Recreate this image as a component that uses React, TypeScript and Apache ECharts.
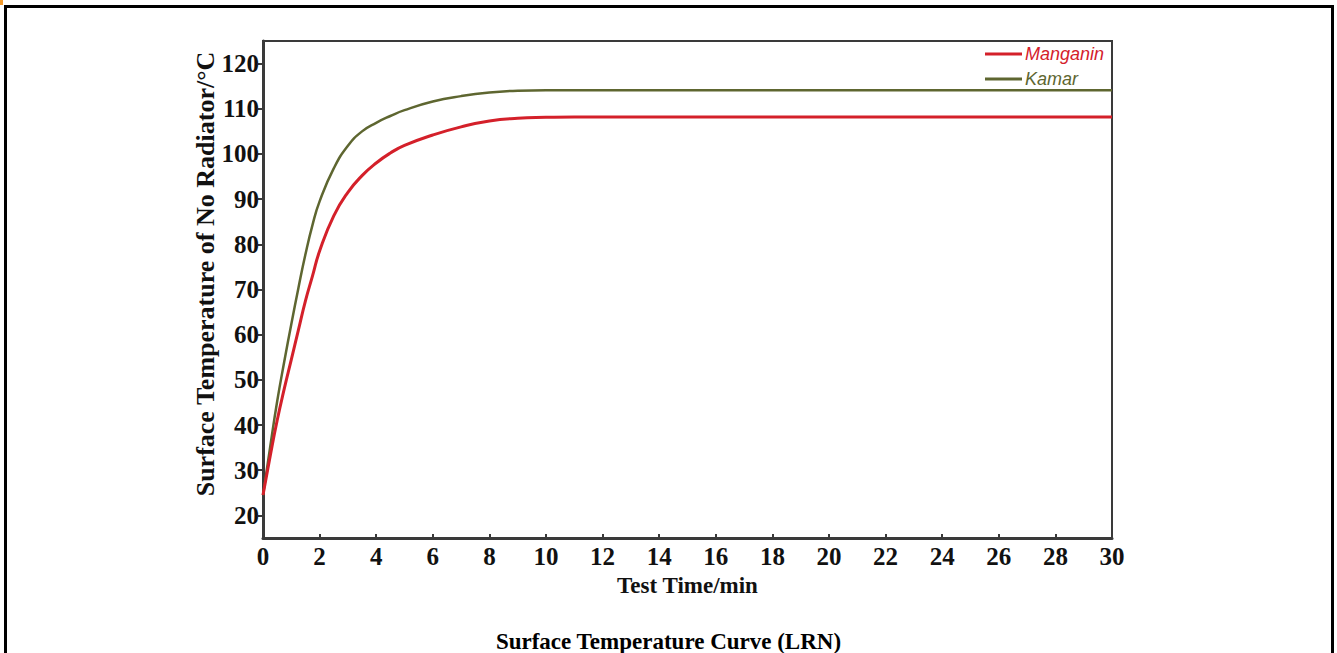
import React, { useEffect, useRef } from "react";
import * as echarts from "echarts";

const times = [0, 0.25, 0.5, 0.75, 1, 1.25, 1.5, 1.75, 2, 2.5, 3, 3.5, 4, 4.5, 5, 6, 7, 8, 9, 10, 11, 15, 20, 30];
const kamar = [24.5, 35, 45.2, 54, 62.3, 70.3, 77.8, 84.3, 89.5, 96.8, 101.8, 105, 106.9, 108.4, 109.7, 111.6, 112.8, 113.6, 114, 114.1, 114.1, 114.1, 114.1, 114.1];
const manganin = [24.5, 33, 41, 48, 54.5, 61, 67.5, 73, 78.5, 86.3, 91.5, 95.2, 98, 100.2, 101.9, 104.2, 106, 107.3, 107.9, 108.1, 108.2, 108.2, 108.2, 108.2];
const yTicks = [20, 30, 40, 50, 60, 70, 80, 90, 100, 110, 120];

const serif = "'Liberation Serif', 'Times New Roman', serif";
const sans = "'Liberation Sans', Arial, sans-serif";
const RED = "#d4202a";
const OLIVE = "#5e6630";

export default function App() {
  const ref = useRef<HTMLDivElement>(null);
  useEffect(() => {
    if (!ref.current) return;
    const chart = echarts.init(ref.current, null, { renderer: "svg" });
    chart.setOption({
      animation: false,
      backgroundColor: "#ffffff",
      title: {
        text: "Surface Temperature Curve (LRN)",
        left: "center",
        top: 624,
        textStyle: { fontFamily: serif, fontWeight: "bold", fontSize: 23, lineHeight: 24, color: "#000" },
      },
      grid: {
        left: 263,
        right: 225,
        top: 41,
        bottom: 115,
        containLabel: false,
        outerBoundsMode: "none",
        show: true,
        borderColor: "#3a3a3a",
        borderWidth: 2,
      },
      legend: {
        orient: "vertical",
        left: 980,
        top: 40,
        itemWidth: 37,
        itemHeight: 3,
        itemGap: 7,
        icon: "rect",
        textStyle: { fontFamily: sans, fontStyle: "italic", fontSize: 18, lineHeight: 18, padding: [0, 0, 0, -2] },
        data: [
          { name: "Manganin", textStyle: { color: RED } },
          { name: "Kamar", textStyle: { color: OLIVE } },
        ],
      },
      xAxis: {
        type: "value",
        min: 0,
        max: 30,
        interval: 2,
        name: "Test Time/min",
        nameLocation: "middle",
        nameGap: 35,
        nameTextStyle: { fontFamily: serif, fontWeight: "bold", fontSize: 23, color: "#111" },
        axisLine: { show: true, lineStyle: { color: "#3a3a3a", width: 3 } },
        axisTick: { show: true, inside: true, length: 4, lineStyle: { color: "#3a3a3a", width: 2 } },
        axisLabel: { fontFamily: serif, fontWeight: "bold", fontSize: 25, color: "#111", margin: 6 },
        splitLine: { show: false },
      },
      yAxis: {
        type: "value",
        min: 15,
        max: 125,
        axisLine: { show: true, lineStyle: { color: "#3a3a3a", width: 3 } },
        axisTick: { show: true, inside: false, length: 5, customValues: yTicks, lineStyle: { color: "#3a3a3a", width: 2 } },
        axisLabel: { fontFamily: serif, fontWeight: "bold", fontSize: 25, color: "#111", margin: 4, customValues: yTicks },
        splitLine: { show: false },
      },
      graphic: [
        {
          type: "rect",
          shape: { x: 5.5, y: 6.5, width: 1327, height: 700 },
          style: { fill: "none", stroke: "#000", lineWidth: 3 },
          silent: true,
        },
        {
          type: "rect",
          shape: { x: 0, y: 0, width: 3, height: 5 },
          style: { fill: "#f39a2c" },
          silent: true,
        },
        {
          type: "text",
          x: 205,
          y: 274,
          rotation: Math.PI / 2,
          style: {
            text: "Surface Temperature of No Radiator/°C",
            fontFamily: serif,
            fontWeight: "bold",
            fontSize: 26,
            fill: "#111",
            align: "center",
            verticalAlign: "middle",
          },
        },
      ],
      series: [
        {
          name: "Manganin",
          type: "line",
          data: times.map((t, i) => [t, manganin[i]]),
          smooth: 0.5,
          showSymbol: false,
          symbol: "none",
          itemStyle: { color: RED },
          lineStyle: { color: RED, width: 3 },
          z: 3,
        },
        {
          name: "Kamar",
          type: "line",
          data: times.map((t, i) => [t, kamar[i]]),
          smooth: 0.5,
          showSymbol: false,
          symbol: "none",
          itemStyle: { color: OLIVE },
          lineStyle: { color: OLIVE, width: 2.5 },
          z: 2,
        },
      ],
    });
    return () => chart.dispose();
  }, []);
  return (
    <div
      ref={ref}
      style={{ position: "absolute", left: 0, top: 0, width: 1337, height: 653 }}
    />
  );
}
